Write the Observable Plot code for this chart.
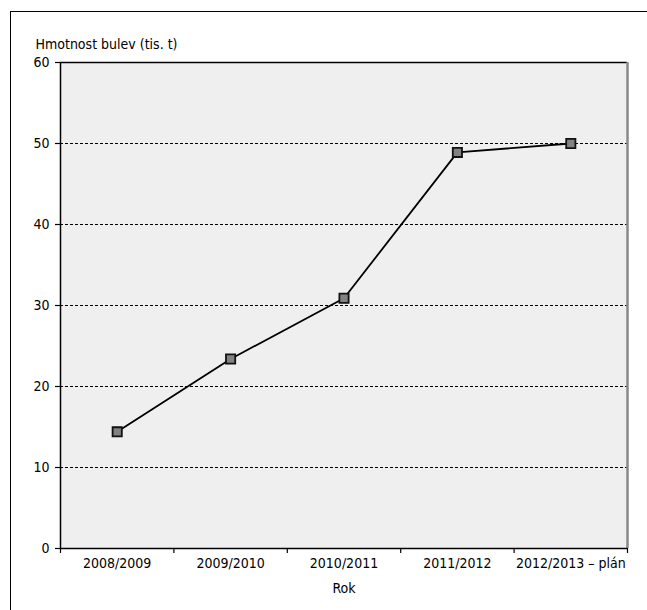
<!DOCTYPE html>
<html>
<head>
<meta charset="utf-8">
<script src="https://cdn.jsdelivr.net/npm/d3@7"></script>
<script src="https://cdn.jsdelivr.net/npm/@observablehq/plot@0.6"></script>
<style>
  html, body { margin: 0; padding: 0; background: #fff; }
  #wrap { position: relative; width: 647px; height: 610px; overflow: hidden; }
  #border { position: absolute; left: 10px; top: 11px; width: 640px; height: 610px;
            border-left: 1.5px solid #000; border-top: 1.5px solid #000; }
  #chart { position: absolute; left: 0; top: 0; }
</style>
</head>
<body>
<div id="wrap"><div id="border"></div><div id="chart"></div></div>
<script>
const categories = ["2008/2009", "2009/2010", "2010/2011", "2011/2012", "2012/2013 \u2013 plán"];
const values = [14.4, 23.4, 30.9, 48.9, 50.0];
const yTicks = [0, 10, 20, 30, 40, 50, 60];
const gridValues = [10, 20, 30, 40, 50];
const yTitle = "Hmotnost bulev (tis. t)";
const xTitle = "Rok";

const data = categories.map((c, i) => ({i, category: c, value: values[i]}));
const centers = categories.map((c, i) => i);
const bounds = d3.range(categories.length + 1).map(i => i - 0.5);

const font = "'Liberation Sans Narrow', 'Arial Narrow', 'DejaVu Sans Condensed', sans-serif";

const chart = Plot.plot({
  width: 647,
  height: 610,
  marginLeft: 60,
  marginRight: 20,
  marginTop: 62,
  marginBottom: 62,
  style: {fontFamily: font, fontSize: "14px", background: "transparent", color: "#000"},
  x: {type: "linear", domain: [-0.5, categories.length - 0.5]},
  y: {domain: [0, 60]},
  marks: [
    Plot.frame({fill: "#eeefee", stroke: null}),
    Plot.ruleY(gridValues, {stroke: "#000", strokeWidth: 1, strokeDasharray: "3,2"}),
    Plot.ruleY([60], {stroke: "#000", strokeWidth: 1.5}),
    Plot.ruleX([categories.length - 0.5], {stroke: "#888", strokeWidth: 2.5}),
    Plot.ruleX([-0.5], {stroke: "#000", strokeWidth: 1.5}),
    Plot.ruleY([0], {stroke: "#000", strokeWidth: 1.5}),
    Plot.axisY({ticks: yTicks, tickSize: 5, tickPadding: 6, label: null, strokeWidth: 1.2}),
    Plot.axisX({ticks: bounds, tickSize: 5, tickFormat: () => "", label: null, strokeWidth: 1.2}),
    Plot.axisX({ticks: centers, tickSize: 0, tickPadding: 10, tickFormat: i => categories[i], label: null}),
    Plot.text([xTitle], {frameAnchor: "bottom", dy: 40, text: d => d, lineAnchor: "middle"}),
    Plot.text([yTitle], {frameAnchor: "top-left", dx: -25, dy: -18, text: d => d, textAnchor: "start", lineAnchor: "middle"}),
    Plot.line(data, {x: "i", y: "value", stroke: "#000", strokeWidth: 1.8}),
    Plot.dot(data, {x: "i", y: "value", symbol: "square", r: 5.2, fill: "#828282", stroke: "#111", strokeWidth: 1.8})
  ]
});
document.getElementById("chart").appendChild(chart);
</script>
</body>
</html>
